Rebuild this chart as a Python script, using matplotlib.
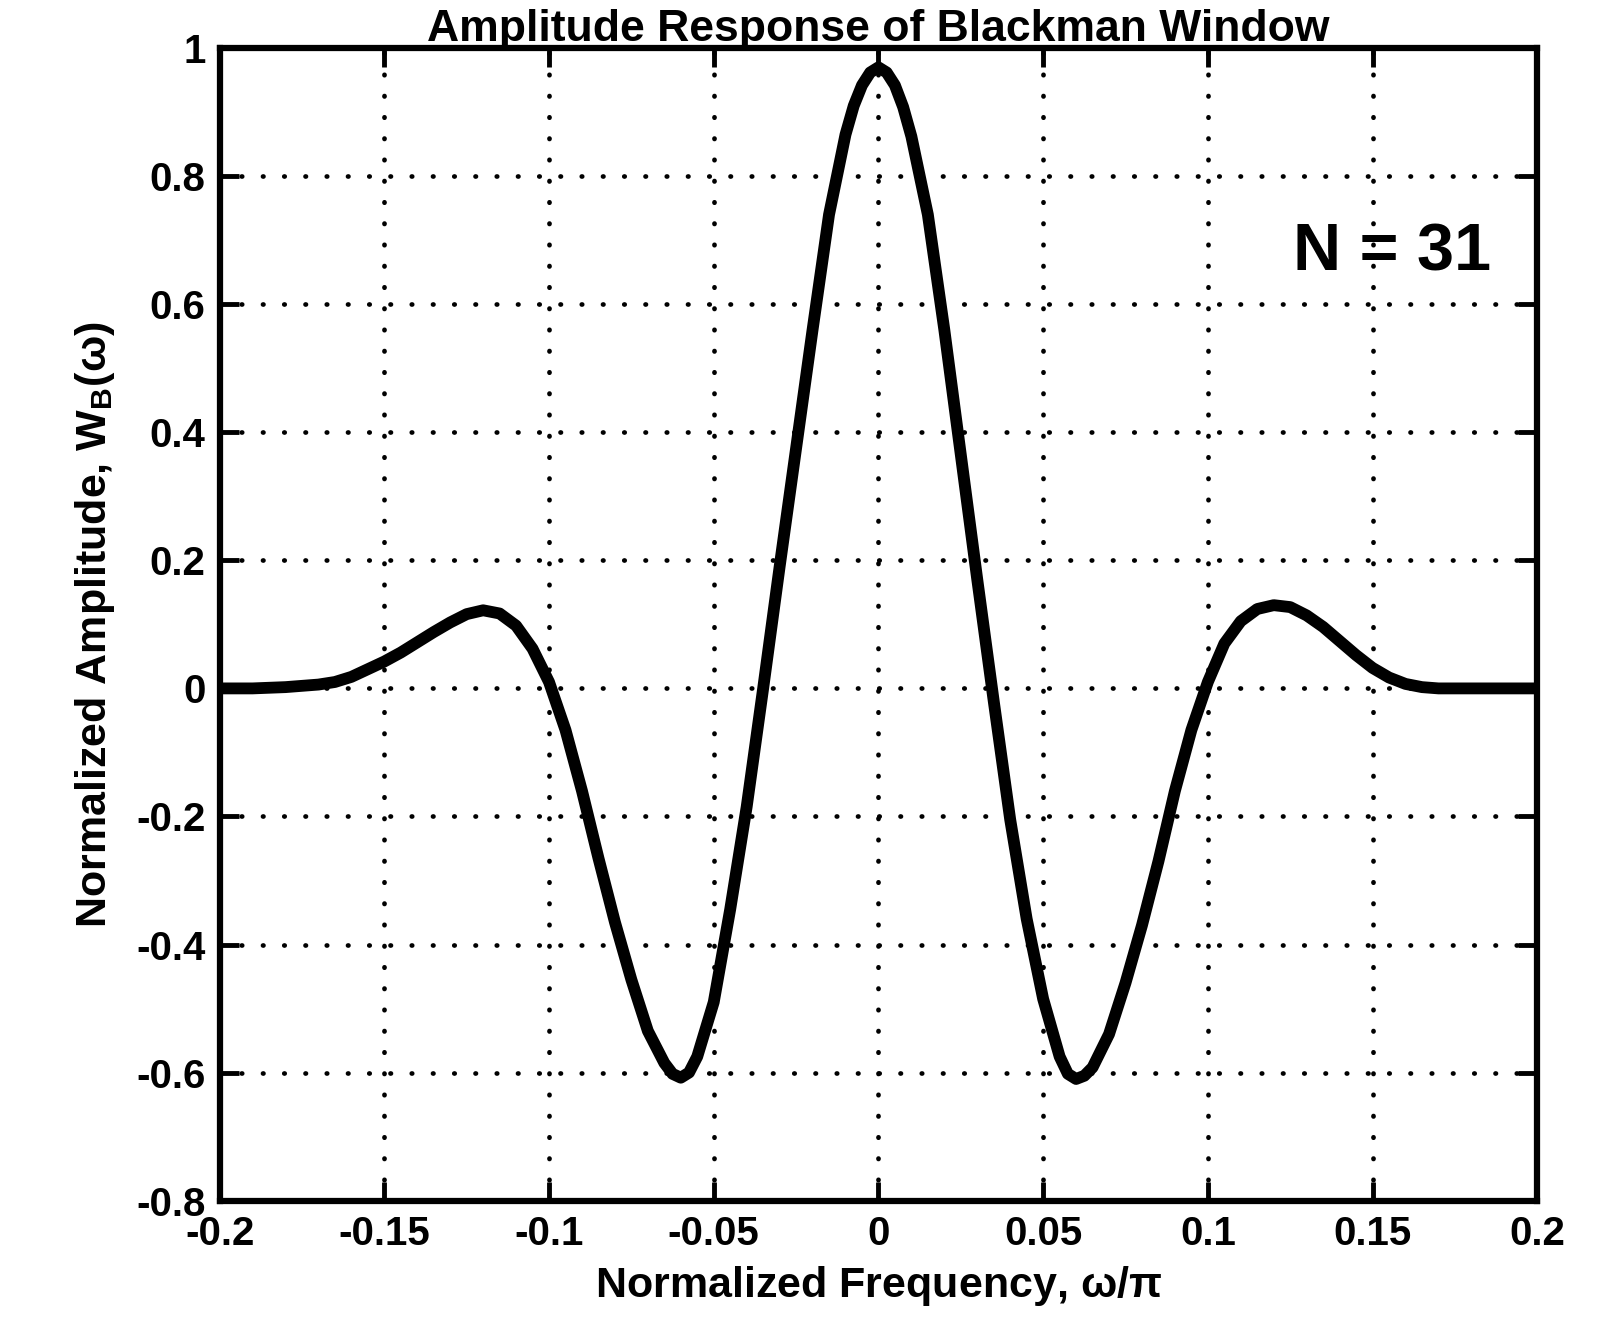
import matplotlib
matplotlib.use("Agg")
import matplotlib.pyplot as plt

# Normalized frequency (w/pi) and amplitude of the Blackman window response, N = 31
freq = [-0.200, -0.195, -0.190, -0.185, -0.180, -0.175, -0.170, -0.165, -0.160, -0.155,
        -0.150, -0.145, -0.140, -0.135, -0.130, -0.125, -0.120, -0.115, -0.110, -0.105,
        -0.100, -0.095, -0.090, -0.085, -0.080, -0.075, -0.070, -0.065, -0.0625, -0.060,
        -0.0575, -0.055, -0.050, -0.045, -0.040, -0.035, -0.030, -0.025, -0.020, -0.015,
        -0.010, -0.0075, -0.005, -0.0025, 0.000, 0.0025, 0.005, 0.0075, 0.010,
        0.015, 0.020, 0.025, 0.030, 0.035, 0.040, 0.045, 0.050,
        0.055, 0.0575, 0.060, 0.0625, 0.065, 0.070, 0.075, 0.080, 0.085, 0.090, 0.095, 0.100,
        0.105, 0.110, 0.115, 0.120, 0.125, 0.130, 0.135, 0.140, 0.145, 0.150,
        0.155, 0.160, 0.165, 0.170, 0.175, 0.180, 0.185, 0.190, 0.195, 0.200]
amplitude = [0.000, 0.000, 0.000, 0.001, 0.002, 0.004, 0.006, 0.010, 0.018, 0.030,
             0.042, 0.056, 0.072, 0.088, 0.103, 0.116, 0.122, 0.117, 0.098, 0.062,
             0.010, -0.065, -0.160, -0.265, -0.365, -0.455, -0.535, -0.585, -0.602, -0.608,
             -0.600, -0.575, -0.490, -0.345, -0.185, 0.000, 0.190, 0.375, 0.560, 0.740,
             0.865, 0.910, 0.942, 0.962, 0.970, 0.962, 0.942, 0.908, 0.862,
             0.740, 0.560, 0.365, 0.170, -0.020, -0.205, -0.360, -0.485,
             -0.575, -0.602, -0.610, -0.605, -0.592, -0.540, -0.460, -0.370, -0.270, -0.160,
             -0.065, 0.010,
             0.070, 0.105, 0.124, 0.130, 0.127, 0.114, 0.096, 0.074, 0.052, 0.032,
             0.017, 0.007, 0.002, 0.000, 0.000, 0.000, 0.000, 0.000, 0.000, 0.000]

xticks = [-0.2, -0.15, -0.1, -0.05, 0, 0.05, 0.1, 0.15, 0.2]
xticklabels = ["-0.2", "-0.15", "-0.1", "-0.05", "0", "0.05", "0.1", "0.15", "0.2"]
yticks = [-0.8, -0.6, -0.4, -0.2, 0, 0.2, 0.4, 0.6, 0.8, 1]
yticklabels = ["-0.8", "-0.6", "-0.4", "-0.2", "0", "0.2", "0.4", "0.6", "0.8", "1"]

plt.rcParams["font.family"] = ["Liberation Sans", "DejaVu Sans"]
plt.rcParams["font.weight"] = "bold"
plt.rcParams["mathtext.fontset"] = "custom"
plt.rcParams["mathtext.rm"] = "Liberation Sans:bold"
plt.rcParams["mathtext.it"] = "Liberation Sans:bold"
plt.rcParams["mathtext.bf"] = "Liberation Sans:bold"

fig = plt.figure(figsize=(16.03, 13.37), dpi=100)
ax = fig.add_axes([0.137, 0.102, 0.822, 0.862])

ax.plot(freq, amplitude, color="black", linewidth=8.5, solid_capstyle="round",
        solid_joinstyle="round", zorder=3)

ax.set_xlim(-0.2, 0.2)
ax.set_ylim(-0.8, 1.0)
ax.set_xticks(xticks)
ax.set_xticklabels(xticklabels)
ax.set_yticks(yticks)
ax.set_yticklabels(yticklabels)

ax.grid(True, color="black", linewidth=3.4, linestyle=(0, (0.1, 4.4)))
for line in ax.get_xgridlines() + ax.get_ygridlines():
    line.set_dash_capstyle("round")

for spine in ax.spines.values():
    spine.set_linewidth(4.5)
    spine.set_color("black")

ax.tick_params(direction="in", length=14, width=3.5, top=True, right=True,
               labelsize=29, pad=10, colors="black")
for lab in ax.get_xticklabels() + ax.get_yticklabels():
    lab.set_fontweight("bold")

ax.set_xlabel(r"Normalized Frequency, $\omega/\pi$", fontsize=31,
              fontweight="bold", labelpad=8)
ax.set_ylabel(r"Normalized Amplitude, W$_B$($\omega$)", fontsize=31,
              fontweight="bold", labelpad=14)
ax.set_title("Amplitude Response of Blackman Window", fontsize=32,
             fontweight="bold", pad=5)

ax.text(0.156, 0.68, "N = 31", fontsize=48, fontweight="bold",
        ha="center", va="center", zorder=4)

fig.savefig("out.png", dpi=100, facecolor="white")
